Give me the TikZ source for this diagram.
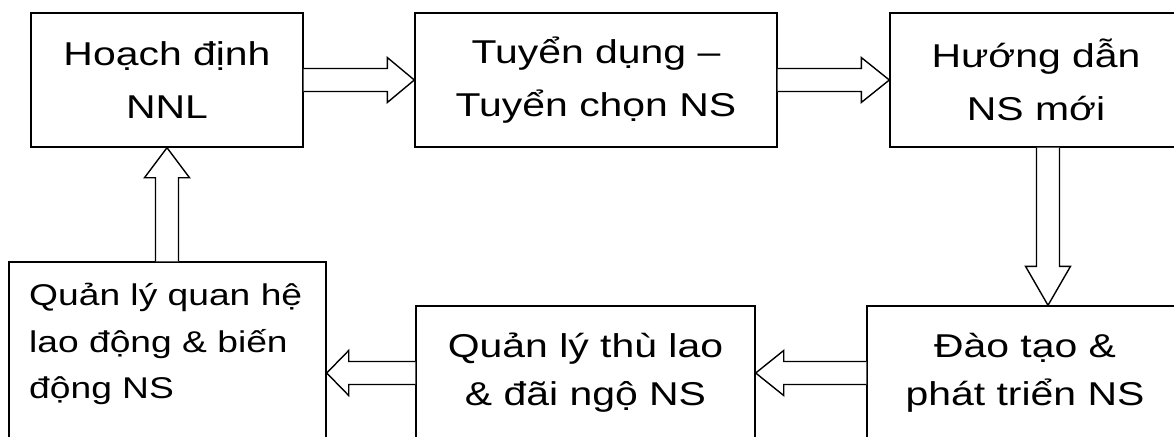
\documentclass[tikz,border=0pt]{standalone}
\usepackage{fontspec}
\setmainfont{Liberation Sans}[FakeStretch=1.24]
\usetikzlibrary{calc}
\tikzset{
  box/.style={draw=black, line width=1.4pt, rectangle, inner sep=0pt, align=center,
              font=\fontsize{33}{53}\selectfont},
  lowbox/.style={box, font=\fontsize{33}{48}\selectfont},
  barrow/.style={draw=black, line width=1.4pt, line join=miter, fill=white}
}
\begin{document}
\begin{tikzpicture}[x=1pt,y=-1pt]
\useasboundingbox (0,0) rectangle (1174,436);
\clip (0,0) rectangle (1174,436);
% boxes
\node[box, minimum width=272pt, minimum height=134pt] (b1) at (167,80) {Hoạch định\\NNL};
\node[box, minimum width=362pt, minimum height=134pt] (b2) at (596,80) {Tuyển dụng –\\Tuyển chọn NS};
\node[box, minimum width=292pt, minimum height=134pt] (b3) at (1036,80) {Hướng dẫn\\NS mới};
\node[box, minimum width=317pt, minimum height=220pt] (b4) at (167.5,372) {};
\node[anchor=north west, align=left, inner sep=0pt, font=\fontsize{30}{46.5}\selectfont] (t4) at (29,283)
  {Quản lý quan hệ\\lao động \& biến\\động NS};
\node[lowbox, minimum width=339pt, minimum height=134pt] (b5) at (585.5,373) {Quản lý thù lao\\\& đãi ngộ NS};
\node[lowbox, minimum width=316pt, minimum height=134pt] (b6) at (1025,373) {Đào tạo \&\\phát triển NS};
% b1 -> b2
\draw[barrow] ($(b1.east)+(0,-11.5)$) -- ($(b2.west)+(-27,-11.5)$) -- ($(b2.west)+(-27,-22.5)$)
  -- (b2.west) -- ($(b2.west)+(-27,22.5)$) -- ($(b2.west)+(-27,11.5)$) -- ($(b1.east)+(0,11.5)$);
% b2 -> b3
\draw[barrow] ($(b2.east)+(0,-11.5)$) -- ($(b3.west)+(-28,-11.5)$) -- ($(b3.west)+(-28,-22.5)$)
  -- (b3.west) -- ($(b3.west)+(-28,22.5)$) -- ($(b3.west)+(-28,11.5)$) -- ($(b2.east)+(0,11.5)$);
% b3 -> b6
\coordinate (dtop) at ($(b3.south)+(12,0)$);
\coordinate (dtip) at (dtop |- b6.north);
\draw[barrow] ($(dtop)+(-11.5,0)$) -- ($(dtip)+(-11.5,-39)$) -- ($(dtip)+(-22.5,-39)$)
  -- (dtip) -- ($(dtip)+(22.5,-39)$) -- ($(dtip)+(11.5,-39)$) -- ($(dtop)+(11.5,0)$);
% b6 -> b5
\draw[barrow] ($(b6.west)+(0,-11.5)$) -- ($(b5.east)+(28,-11.5)$) -- ($(b5.east)+(28,-22.5)$)
  -- (b5.east) -- ($(b5.east)+(28,22.5)$) -- ($(b5.east)+(28,11.5)$) -- ($(b6.west)+(0,11.5)$);
% b5 -> b4
\coordinate (ltip) at (b4.east |- b5.west);
\draw[barrow] ($(b5.west)+(0,-11.5)$) -- ($(ltip)+(22,-11.5)$) -- ($(ltip)+(22,-22.5)$)
  -- (ltip) -- ($(ltip)+(22,22.5)$) -- ($(ltip)+(22,11.5)$) -- ($(b5.west)+(0,11.5)$);
% b4 -> b1
\coordinate (ubot) at (b1.south |- b4.north);
\draw[barrow] ($(ubot)+(-11.5,0)$) -- ($(b1.south)+(-11.5,30)$) -- ($(b1.south)+(-22.5,30)$)
  -- (b1.south) -- ($(b1.south)+(22.5,30)$) -- ($(b1.south)+(11.5,30)$) -- ($(ubot)+(11.5,0)$);
\end{tikzpicture}
\end{document}
